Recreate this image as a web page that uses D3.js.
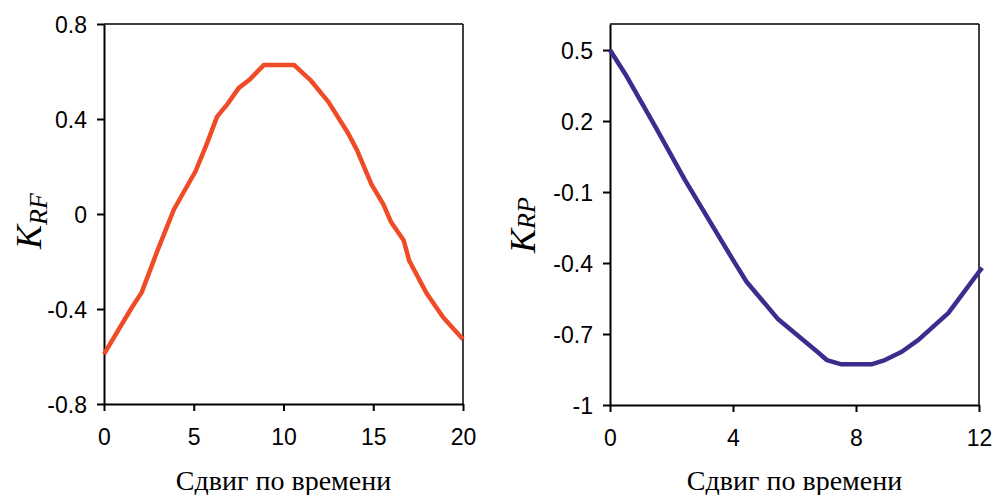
<!DOCTYPE html>
<html><head><meta charset="utf-8">
<script src="https://cdn.jsdelivr.net/npm/d3@7"></script>
<style>
body{margin:0;background:#fff;}
svg{display:block;}
.tick text{font-family:"Liberation Sans",Arial,sans-serif;font-size:23px;fill:#000;}
</style></head>
<body>
<svg id="c" width="993" height="495"></svg>
<script>
// Left chart: K_RF
const rfShift = [0, 1.5, 2.1, 3, 3.9, 4.5, 5.1, 5.7, 6.3, 6.9, 7.5, 8.1, 8.9, 10.6, 11.5, 12.5, 13.6, 14.1, 14.9, 15.55, 16.0, 16.7, 17.0, 17.8, 18.0, 18.9, 20];
const rfValues = [-0.59, -0.40, -0.33, -0.15, 0.02, 0.10, 0.18, 0.29, 0.41, 0.465, 0.53, 0.565, 0.627, 0.627, 0.564, 0.472, 0.34, 0.268, 0.125, 0.043, -0.035, -0.112, -0.196, -0.31, -0.337, -0.436, -0.527];
const rfXTicks = [0, 5, 10, 15, 20];
const rfYTicks = [0.8, 0.4, 0, -0.4, -0.8];
const rfYLabels = ["0.8", "0.4", "0", "-0.4", "-0.8"];

// Right chart: K_RP
const rpShift = [0, 0.49, 1.46, 2.44, 4.0, 4.44, 5.47, 6.78, 7.05, 7.53, 8.5, 8.94, 9.49, 10.03, 11.0, 12.1];
const rpValues = [0.50, 0.40, 0.18, -0.05, -0.387, -0.479, -0.638, -0.779, -0.81, -0.828, -0.828, -0.81, -0.775, -0.725, -0.612, -0.42];
const rpXTicks = [0, 4, 8, 12];
const rpYTicks = [0.5, 0.2, -0.1, -0.4, -0.7, -1];
const rpYLabels = ["0.5", "0.2", "-0.1", "-0.4", "-0.7", "-1"];

const xTitle = "Сдвиг по времени";

const svg = d3.select("#c");

function panel(opts){
  const x = d3.scaleLinear().domain(opts.xDomain).range(opts.xRange);
  const y = d3.scaleLinear().domain(opts.yDomain).range(opts.yRange);
  const g = svg.append("g");
  g.append("line").attr("x1", opts.xRange[0]).attr("x2", opts.xRange[1]).attr("y1", opts.yRange[1]).attr("y2", opts.yRange[1]).attr("stroke","#000").attr("stroke-width",1.5);
  g.append("line").attr("x1", opts.xRange[1]).attr("x2", opts.xRange[1]).attr("y1", opts.yRange[0]).attr("y2", opts.yRange[1]).attr("stroke","#000").attr("stroke-width",1.5);
  const yAxis = d3.axisLeft(y).tickValues(opts.yTicks).tickSize(7).tickSizeOuter(0).tickPadding(10)
    .tickFormat((d,i)=>opts.yLabels[i]);
  const ya = g.append("g").attr("transform", `translate(${opts.xRange[0]},0)`).call(yAxis);
  ya.selectAll("path,line").attr("stroke","#000").attr("stroke-width",2);
  ya.selectAll("text").attr("dy","0.35em");
  const xAxis = d3.axisBottom(x).tickValues(opts.xTicks).tickSize(7).tickSizeOuter(0).tickPadding(18).tickFormat(d3.format("d"));
  const xa = g.append("g").attr("transform", `translate(0,${opts.yRange[0]})`).call(xAxis);
  xa.selectAll("path,line").attr("stroke","#000").attr("stroke-width",2);
  const pts = opts.xs.map((d,i)=>[d, opts.ys[i]]);
  g.append("path").datum(pts)
    .attr("d", d3.line().x(d=>x(d[0])).y(d=>y(d[1])))
    .attr("fill","none").attr("stroke", opts.color).attr("stroke-width",4.5).attr("stroke-linejoin","round");
  g.append("text").attr("x", (opts.xRange[0]+opts.xRange[1])/2).attr("y", 490)
    .attr("text-anchor","middle").attr("font-family","'Liberation Serif','Times New Roman',serif").attr("font-size",28)
    .text(xTitle);
  const t = g.append("text").attr("transform", `translate(${opts.yLabelX},${opts.yLabelY}) rotate(-90)`)
    .attr("text-anchor","middle").attr("font-family","'Liberation Serif','Times New Roman',serif").attr("font-style","italic");
  t.append("tspan").attr("font-size",36).text("K");
  t.append("tspan").attr("font-size",26).attr("dy", opts.subDy).text(opts.sub);
}

panel({xDomain:[0,20], xRange:[104,463], yDomain:[-0.8,0.8], yRange:[404,24],
  xTicks: rfXTicks, yTicks: rfYTicks, yLabels: rfYLabels,
  xs: rfShift, ys: rfValues, color:"#F04A26", yLabelX:41, yLabelY:221, sub:"RF", subDy:6});

panel({xDomain:[0,12], xRange:[610,979], yDomain:[-1,0.61], yRange:[405,24],
  xTicks: rpXTicks, yTicks: rpYTicks, yLabels: rpYLabels,
  xs: rpShift, ys: rpValues, color:"#3B2C8E", yLabelX:535, yLabelY:225, sub:"RP", subDy:0});
</script>
</body></html>
